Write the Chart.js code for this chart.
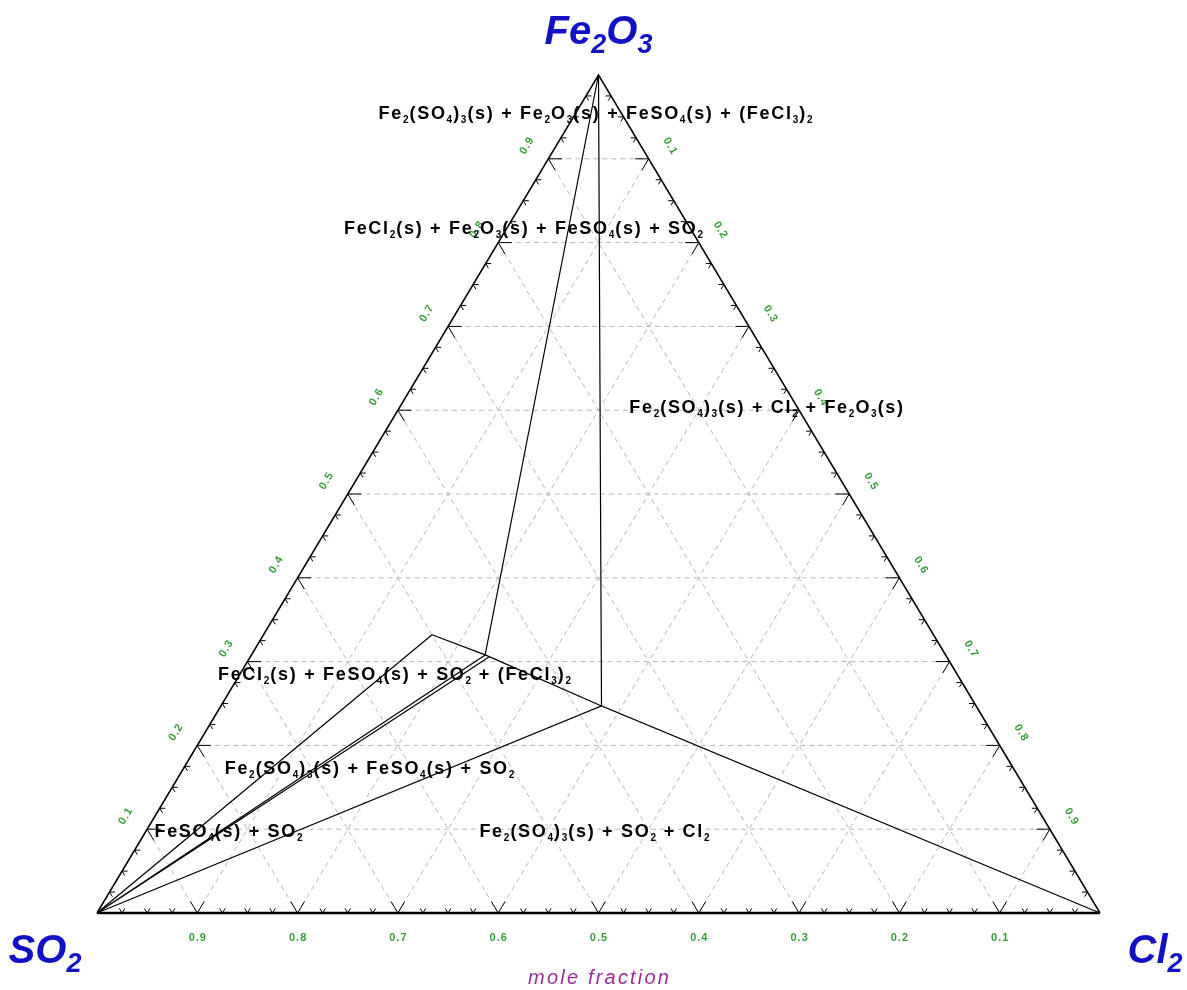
<!DOCTYPE html>
<html>
<head>
<meta charset="utf-8">
<title>SO2 – Cl2 – Fe2O3 ternary phase diagram</title>
<script src="https://cdn.jsdelivr.net/npm/chart.js@4.4.1/dist/chart.umd.min.js"></script>
<style>
  html, body { margin: 0; padding: 0; background: #ffffff; }
  #wrap { width: 1187px; height: 990px; position: relative; }
  canvas { display: block; }
</style>
</head>
<body>
<div id="wrap"><canvas id="chart" width="1187" height="990"></canvas></div>
<script>
// Mole fractions are written as [SO2, Cl2, Fe2O3].
const componentNames = ['SO_2', 'Cl_2', 'Fe_2O_3'];
const SO2   = [1, 0, 0];
const CL2   = [0, 1, 0];
const FE2O3 = [0, 0, 1];

// Grid / axis values
const gridFractions = [0.1, 0.2, 0.3, 0.4, 0.5, 0.6, 0.7, 0.8, 0.9];
const tickStep = 0.025;
const baseTickLabels  = ['0.9', '0.8', '0.7', '0.6', '0.5', '0.4', '0.3', '0.2', '0.1']; // SO2 fraction, left to right
const leftTickLabels  = ['0.1', '0.2', '0.3', '0.4', '0.5', '0.6', '0.7', '0.8', '0.9']; // Fe2O3 fraction, bottom to top
const rightTickLabels = ['0.1', '0.2', '0.3', '0.4', '0.5', '0.6', '0.7', '0.8', '0.9']; // Cl2 fraction, top to bottom
const axisTitle = 'mole fraction';

// Invariant points of the phase field map
const pointA  = [0.3735, 0.3795, 0.2470];
const pointB  = [0.4590, 0.2330, 0.3080];
const pointB2 = [0.4564, 0.2381, 0.3055];
const pointC  = [0.5000, 0.1680, 0.3320];

// Phase boundaries
const boundaryApexA   = [FE2O3, pointA];
const boundaryApexB   = [FE2O3, pointB];
const boundaryCBA     = [pointC, pointB, pointA];
const boundarySO2C    = [SO2, pointC];
const boundarySO2B    = [SO2, pointB];
const boundarySO2B2   = [SO2, pointB2];
const boundarySO2ACl2 = [SO2, pointA, CL2];

// Phase field names
const regionNames = [
  'Fe_2(SO_4)_3(s) + Fe_2O_3(s) + FeSO_4(s) + (FeCl_3)_2',
  'FeCl_2(s) + Fe_2O_3(s) + FeSO_4(s) + SO_2',
  'Fe_2(SO_4)_3(s) + Cl_2 + Fe_2O_3(s)',
  'FeCl_2(s) + FeSO_4(s) + SO_2 + (FeCl_3)_2',
  'Fe_2(SO_4)_3(s) + FeSO_4(s) + SO_2',
  'FeSO_4(s) + SO_2',
  'Fe_2(SO_4)_3(s) + SO_2 + Cl_2'
];
// label centres in plot coordinates (x across the base, y = height)
const regionAnchors = [
  [0.4975, 0.9547], [0.4257, 0.8174], [0.6680, 0.6038], [0.2971, 0.2852],
  [0.2722, 0.1730], [0.1316, 0.0979], [0.4965, 0.0979]
];

// ---- geometry helpers --------------------------------------------------
const toXY = t => ({ x: t[1] + t[2] / 2, y: t[2] });

function polylines(list) {
  const out = [];
  list.forEach((line, i) => {
    if (i) out.push({ x: null, y: null });
    line.forEach(p => out.push(toXY(p)));
  });
  return out;
}

// grid lines of constant SO2, Cl2 and Fe2O3
const gridSegments = [];
gridFractions.forEach(k => {
  gridSegments.push([[1 - k, 0, k], [0, 1 - k, k]]);
  gridSegments.push([[k, 1 - k, 0], [k, 0, 1 - k]]);
  gridSegments.push([[1 - k, k, 0], [0, k, 1 - k]]);
});

// inward tick marks on the three edges
const tickSegments = [];
const nTicks = Math.round(1 / tickStep);
for (let i = 1; i < nTicks; i++) {
  const t = i * tickStep;
  const major = i % 4 === 0;
  const d = major ? 0.0135 : 0.0055;
  // base: SO2 = t
  const pb = [t, 1 - t, 0];
  tickSegments.push([pb, [t, 1 - t - d, d]]);
  tickSegments.push([pb, [t - d, 1 - t, d]]);
  // left edge: Fe2O3 = t
  const pl = [1 - t, 0, t];
  tickSegments.push([pl, [1 - t - d, d, t]]);
  tickSegments.push([pl, [1 - t, d, t - d]]);
  // right edge: Cl2 = t
  const pr = [0, t, 1 - t];
  tickSegments.push([pr, [d, t - d, 1 - t]]);
  tickSegments.push([pr, [d, t, 1 - t - d]]);
}

const lineDefaults = {
  showLine: true, pointRadius: 0, pointHoverRadius: 0, fill: false,
  clip: false, spanGaps: false, tension: 0
};

// ---- rich text with subscripts ------------------------------------------
function parseRuns(str) {
  const runs = []; let buf = '';
  for (let i = 0; i < str.length; i++) {
    if (str[i] === '_') {
      if (buf) runs.push({ t: buf, sub: false });
      buf = '';
      runs.push({ t: str[i + 1], sub: true });
      i++;
    } else buf += str[i];
  }
  if (buf) runs.push({ t: buf, sub: false });
  return runs;
}

function drawRich(ctx, str, cx, baseY, st) {
  const runs = parseRuns(str);
  let w = 0;
  runs.forEach(r => {
    ctx.font = r.sub ? st.sub : st.main;
    for (const ch of r.t) w += ctx.measureText(ch).width + (r.sub ? st.subSpacing : st.spacing);
  });
  let x = cx - w / 2;
  ctx.fillStyle = st.color;
  ctx.textAlign = 'left';
  ctx.textBaseline = 'alphabetic';
  runs.forEach(r => {
    ctx.font = r.sub ? st.sub : st.main;
    for (const ch of r.t) {
      ctx.fillText(ch, x, baseY + (r.sub ? st.subDy : 0));
      x += ctx.measureText(ch).width + (r.sub ? st.subSpacing : st.spacing);
    }
  });
}

function drawSpaced(ctx, str, cx, cy, font, color, spacing) {
  ctx.font = font;
  let w = 0;
  for (const ch of str) w += ctx.measureText(ch).width + spacing;
  w -= spacing;
  let x = cx - w / 2;
  ctx.fillStyle = color;
  ctx.textAlign = 'left';
  ctx.textBaseline = 'middle';
  for (const ch of str) { ctx.fillText(ch, x, cy); x += ctx.measureText(ch).width + spacing; }
}

const FONT = '"Liberation Sans", Arial, Helvetica, sans-serif';
const vertexStyle = {
  main: `italic bold 40px ${FONT}`, sub: `italic bold 27px ${FONT}`,
  subDy: 9, spacing: 0, subSpacing: 0, color: '#1212c4'
};
const regionStyle = {
  main: `bold 18px ${FONT}`, sub: `bold 10px ${FONT}`,
  subDy: 4, spacing: 1.7, subSpacing: 1, color: '#000000'
};
const tickFont = `bold 11px ${FONT}`;
const tickColor = '#3a9e3a';

const ternaryText = {
  id: 'ternaryText',
  afterDatasetsDraw(chart) {
    const { ctx } = chart;
    const xs = chart.scales.x, ys = chart.scales.y;
    const pix = t => { const p = toXY(t); return [xs.getPixelForValue(p.x), ys.getPixelForValue(p.y)]; };
    const pS = pix(SO2), pC = pix(CL2), pF = pix(FE2O3);
    ctx.save();

    // tick labels
    const off = 25;
    gridFractions.forEach((k, i) => {
      const [bx, by] = pix([1 - k, k, 0]);
      drawSpaced(ctx, baseTickLabels[i], bx, by + off, tickFont, tickColor, 1);
    });
    const lu = [pF[0] - pS[0], pF[1] - pS[1]];
    const ll = Math.hypot(lu[0], lu[1]);
    const lux = lu[0] / ll, luy = lu[1] / ll;
    gridFractions.forEach((k, i) => {
      const [x0, y0] = pix([1 - k, 0, k]);
      ctx.save();
      ctx.translate(x0 + luy * off, y0 - lux * off);
      ctx.rotate(Math.atan2(luy, lux));
      drawSpaced(ctx, leftTickLabels[i], 0, 0, tickFont, tickColor, 1);
      ctx.restore();
    });
    const ru = [pC[0] - pF[0], pC[1] - pF[1]];
    const rl = Math.hypot(ru[0], ru[1]);
    const rux = ru[0] / rl, ruy = ru[1] / rl;
    gridFractions.forEach((k, i) => {
      const [x0, y0] = pix([0, k, 1 - k]);
      ctx.save();
      ctx.translate(x0 + ruy * off, y0 - rux * off);
      ctx.rotate(Math.atan2(ruy, rux));
      drawSpaced(ctx, rightTickLabels[i], 0, 0, tickFont, tickColor, 1);
      ctx.restore();
    });

    // component names at the corners
    drawRich(ctx, componentNames[2], pF[0], pF[1] - 31, vertexStyle);
    drawRich(ctx, componentNames[0], pS[0] - 52, pS[1] + 50, vertexStyle);
    drawRich(ctx, componentNames[1], pC[0] + 55, pC[1] + 50, vertexStyle);

    // axis title
    drawSpaced(ctx, axisTitle, (pS[0] + pC[0]) / 2, pS[1] + 65, `italic 20px ${FONT}`, '#9a2e9a', 2.2);

    // phase field names
    regionNames.forEach((name, i) => {
      const cx = xs.getPixelForValue(regionAnchors[i][0]);
      const cy = ys.getPixelForValue(regionAnchors[i][1]);
      drawRich(ctx, name, cx, cy + 6, regionStyle);
    });
    ctx.restore();
  }
};

new Chart(document.getElementById('chart'), {
  type: 'scatter',
  data: {
    datasets: [
      Object.assign({}, lineDefaults, {
        label: 'boundaries', order: 0,
        data: polylines([boundaryApexA, boundaryApexB, boundaryCBA, boundarySO2C,
                         boundarySO2B, boundarySO2B2, boundarySO2ACl2]),
        borderColor: '#000000', borderWidth: 1.2
      }),
      Object.assign({}, lineDefaults, {
        label: 'base', order: 1,
        data: polylines([[SO2, CL2]]),
        borderColor: '#000000', borderWidth: 2.6
      }),
      Object.assign({}, lineDefaults, {
        label: 'sides', order: 1,
        data: polylines([[SO2, FE2O3, CL2]]),
        borderColor: '#000000', borderWidth: 1.5
      }),
      Object.assign({}, lineDefaults, {
        label: 'ticks', order: 2,
        data: polylines(tickSegments),
        borderColor: '#000000', borderWidth: 1
      }),
      Object.assign({}, lineDefaults, {
        label: 'grid', order: 3,
        data: polylines(gridSegments),
        borderColor: '#b8b8b8', borderWidth: 1, borderDash: [5, 4]
      })
    ]
  },
  options: {
    responsive: false,
    devicePixelRatio: 1,
    animation: false,
    events: [],
    layout: { padding: { left: 97, right: 87, top: 75, bottom: 77 } },
    scales: {
      x: { type: 'linear', min: 0, max: 1, display: false },
      y: { type: 'linear', min: 0, max: 1, display: false }
    },
    plugins: { legend: { display: false }, tooltip: { enabled: false }, title: { display: false } }
  },
  plugins: [ternaryText]
});
</script>
</body>
</html>
